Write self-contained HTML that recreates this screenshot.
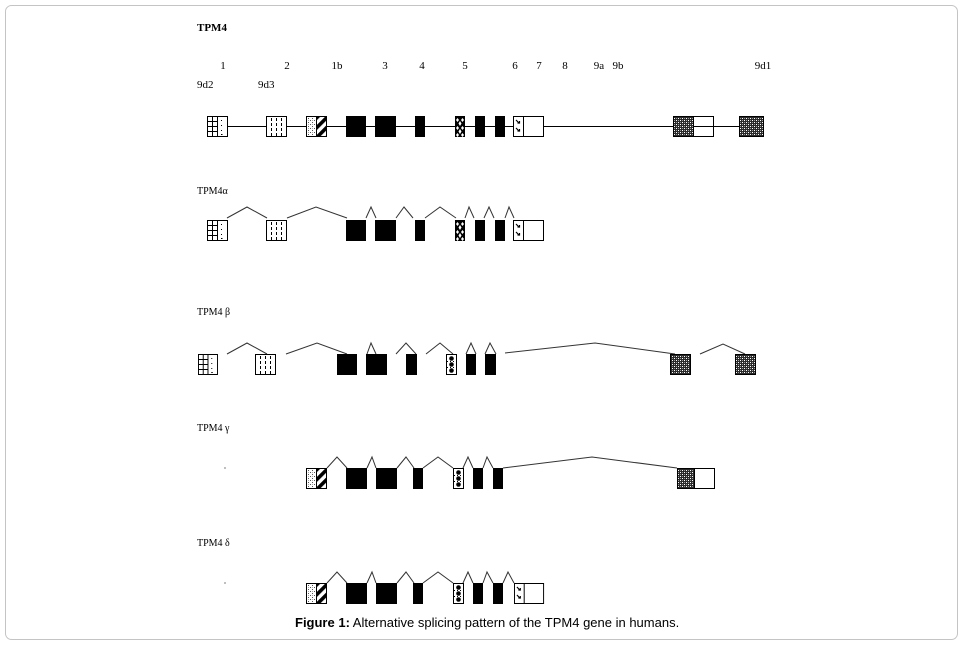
<!DOCTYPE html>
<html><head><meta charset="utf-8"><style>
html,body{margin:0;padding:0;background:#fff;}
svg{display:block;}
.s{font-family:"Liberation Serif",serif;font-size:11px;fill:#000;}
.l{font-family:"Liberation Serif",serif;font-size:10px;fill:#000;}
.c{font-family:"Liberation Sans",sans-serif;font-size:13px;fill:#000;}
</style></head><body>
<svg width="963" height="645" viewBox="0 0 963 645" xmlns="http://www.w3.org/2000/svg">
<defs>
<pattern id="st" width="4" height="4" patternUnits="userSpaceOnUse">
<rect width="4" height="4" fill="#fff"/><rect x="0" y="0" width="1" height="1" fill="#555"/><rect x="2" y="2" width="1" height="1" fill="#555"/><rect x="2" y="0" width="1" height="1" fill="#aaa"/>
</pattern>
<pattern id="dg" width="7" height="7" patternUnits="userSpaceOnUse" patternTransform="rotate(45)">
<rect width="7" height="7" fill="#fff"/><rect width="3.6" height="7" fill="#000"/>
</pattern>
<pattern id="dk" width="4" height="4" patternUnits="userSpaceOnUse">
<rect width="4" height="4" fill="#2a2a2a"/><rect x="0" y="0" width="1" height="1" fill="#fff"/><rect x="2" y="2" width="1" height="1" fill="#fff"/><rect x="2" y="0" width="1" height="1" fill="#999"/><rect x="0" y="2" width="1" height="1" fill="#999"/>
</pattern>
<g id="b1">
<rect x="0.5" y="0.5" width="20" height="20" fill="#fff" stroke="#000"/>
<line x1="10.5" y1="0" x2="10.5" y2="21" stroke="#000"/>
<line x1="5.5" y1="0" x2="5.5" y2="21" stroke="#000"/>
<line x1="0" y1="5.5" x2="10.5" y2="5.5" stroke="#000"/>
<line x1="0" y1="10.5" x2="10.5" y2="10.5" stroke="#000"/>
<line x1="0" y1="15.5" x2="10.5" y2="15.5" stroke="#000"/>
<rect x="14" y="4" width="1" height="1" fill="#000"/><rect x="14" y="9" width="1" height="1" fill="#000"/><rect x="14" y="14" width="1" height="1" fill="#000"/><rect x="14" y="18" width="1.5" height="1" fill="#000"/>
</g>
<g id="b2">
<rect x="0.5" y="0.5" width="20" height="20" fill="#fff" stroke="#000"/>
<g stroke="#000" stroke-dasharray="3 2">
<line x1="5.5" y1="2" x2="5.5" y2="20"/><line x1="10.5" y1="2" x2="10.5" y2="20"/><line x1="15.5" y1="2" x2="15.5" y2="20"/>
</g>
</g>
<g id="b1b">
<rect x="0.5" y="0.5" width="10" height="20" fill="url(#st)"/>
<rect x="10.5" y="0.5" width="10" height="20" fill="url(#dg)"/>
<rect x="0.5" y="0.5" width="20" height="20" fill="none" stroke="#000"/>
<line x1="10.5" y1="0" x2="10.5" y2="21" stroke="#000"/>
</g>
<g id="p5a">
<rect x="0" y="0" width="10" height="21" fill="#000"/>
<path d="M2.5 2 L4 4 L2.5 6 L1 4Z M7.5 2 L9 4 L7.5 6 L6 4Z M5 5 L6.5 7.5 L5 10 L3.5 7.5Z M2.5 10 L4 12 L2.5 14 L1 12Z M7.5 10 L9 12 L7.5 14 L6 12Z M5 13 L6.5 15.5 L5 18 L3.5 15.5Z M2.5 17 L4 19 L2.5 21 L1 19Z M7.5 17 L9 19 L7.5 21 L6 19Z" fill="#fff"/>
</g>
<g id="p5b">
<rect x="0.5" y="0.5" width="10" height="20" fill="#fff" stroke="#000"/>
<circle cx="5.5" cy="4.5" r="2.3" fill="#000"/><circle cx="5.5" cy="10.5" r="2.3" fill="#000"/><circle cx="5.5" cy="16.5" r="2.3" fill="#000"/>
<line x1="1" y1="7.5" x2="10" y2="7.5" stroke="#000" stroke-dasharray="1 2"/>
<line x1="1" y1="13.5" x2="10" y2="13.5" stroke="#000" stroke-dasharray="1 2"/>
</g>
<g id="b67">
<rect x="0.5" y="0.5" width="30" height="20" fill="#fff" stroke="#000"/>
<line x1="10.5" y1="0" x2="10.5" y2="21" stroke="#000"/>
<path d="M3 4 L6 7 M4.5 7 L6.5 7 L6.5 5" stroke="#000" stroke-width="1.2" fill="none"/>
<path d="M3 12 L6 15 M4.5 15 L6.5 15 L6.5 13" stroke="#000" stroke-width="1.2" fill="none"/>
</g>
</defs>

<rect x="5.5" y="5.5" width="952" height="634" rx="6" fill="#fff" stroke="#c4c4c4"/>

<!-- Header -->
<text x="197" y="31" class="s" font-weight="bold">TPM4</text>
<g class="s" text-anchor="middle">
<text x="223" y="69">1</text><text x="287" y="69">2</text><text x="337" y="69">1b</text>
<text x="385" y="69">3</text><text x="422" y="69">4</text><text x="465" y="69">5</text>
<text x="515" y="69">6</text><text x="539" y="69">7</text><text x="565" y="69">8</text>
<text x="599" y="69">9a</text><text x="618" y="69">9b</text><text x="763" y="69">9d1</text>
</g>
<text x="197" y="88" class="s">9d2</text>
<text x="258" y="88" class="s">9d3</text>

<!-- Row 1: gene -->
<line x1="227" y1="126.5" x2="739" y2="126.5" stroke="#000"/>
<use href="#b1" x="207" y="116"/>
<use href="#b2" x="266" y="116"/>
<use href="#b1b" x="306" y="116"/>
<rect x="346" y="116" width="20" height="21" fill="#000"/>
<rect x="375" y="116" width="21" height="21" fill="#000"/>
<rect x="415" y="116" width="10" height="21" fill="#000"/>
<use href="#p5a" x="455" y="116"/>
<rect x="475" y="116" width="10" height="21" fill="#000"/>
<rect x="495" y="116" width="10" height="21" fill="#000"/>
<use href="#b67" x="513" y="116"/>
<rect x="673.5" y="116.5" width="20" height="20" fill="url(#dk)"/>
<rect x="673.5" y="116.5" width="40" height="20" fill="none" stroke="#000"/>
<line x1="693.5" y1="116" x2="693.5" y2="137" stroke="#000"/>
<rect x="739.5" y="116.5" width="24" height="20" fill="url(#dk)" stroke="#000"/>

<!-- TPM4 alpha -->
<text x="197" y="194" class="l">TPM4α</text>
<g stroke="#333" fill="none">
<polyline points="227,218 247,207 267,218"/>
<polyline points="287,218 316,207 347,218"/>
<polyline points="366,218 371,207 376,218"/>
<polyline points="396,218 404,207 413,218"/>
<polyline points="425,218 440,207 456,218"/>
<polyline points="465,218 469,207 474,218"/>
<polyline points="484,218 489,207 494,218"/>
<polyline points="505,218 509,207 514,218"/>
</g>
<use href="#b1" x="207" y="220"/>
<use href="#b2" x="266" y="220"/>
<rect x="346" y="220" width="20" height="21" fill="#000"/>
<rect x="375" y="220" width="21" height="21" fill="#000"/>
<rect x="415" y="220" width="10" height="21" fill="#000"/>
<use href="#p5a" x="455" y="220"/>
<rect x="475" y="220" width="10" height="21" fill="#000"/>
<rect x="495" y="220" width="10" height="21" fill="#000"/>
<use href="#b67" x="513" y="220"/>

<!-- TPM4 beta -->
<text x="197" y="315" class="l">TPM4 β</text>
<g stroke="#333" fill="none">
<polyline points="227,354 247,343 267,354"/>
<polyline points="286,354 317,343 347,354"/>
<polyline points="367,354 371,343 376,354"/>
<polyline points="396,354 406,343 416,354"/>
<polyline points="426,354 440,343 453,354"/>
<polyline points="466,354 471,343 476,354"/>
<polyline points="485,354 490,343 496,354"/>
<polyline points="505,353 595,343 675,354"/>
<polyline points="700,354 723,344 745,354"/>
</g>
<use href="#b1" x="198" y="354" transform="translate(198 354) scale(0.95 1) translate(-198 -354)"/>
<use href="#b2" x="255" y="354"/>
<rect x="337" y="354" width="20" height="21" fill="#000"/>
<rect x="366" y="354" width="21" height="21" fill="#000"/>
<rect x="406" y="354" width="11" height="21" fill="#000"/>
<use href="#p5b" x="446" y="354"/>
<rect x="466" y="354" width="10" height="21" fill="#000"/>
<rect x="485" y="354" width="11" height="21" fill="#000"/>
<rect x="670.5" y="354.5" width="20" height="20" fill="url(#dk)" stroke="#000"/>
<rect x="735.5" y="354.5" width="20" height="20" fill="url(#dk)" stroke="#000"/>

<!-- TPM4 gamma -->
<text x="197" y="431" class="l">TPM4 γ</text>
<rect x="224.5" y="467.5" width="1" height="1" fill="#000"/>
<g stroke="#333" fill="none">
<polyline points="327,468 337,457 347,468"/>
<polyline points="367,468 372,457 376,468"/>
<polyline points="397,468 406,457 414,468"/>
<polyline points="423,468 438,457 453,468"/>
<polyline points="463,468 468,457 473,468"/>
<polyline points="483,468 487,457 493,468"/>
<polyline points="503,468 592,457 677,468"/>
</g>
<use href="#b1b" x="306" y="468"/>
<rect x="346" y="468" width="21" height="21" fill="#000"/>
<rect x="376" y="468" width="21" height="21" fill="#000"/>
<rect x="413" y="468" width="10" height="21" fill="#000"/>
<use href="#p5b" x="453" y="468"/>
<rect x="473" y="468" width="10" height="21" fill="#000"/>
<rect x="493" y="468" width="10" height="21" fill="#000"/>
<rect x="677.5" y="468.5" width="17" height="20" fill="url(#dk)"/>
<rect x="677.5" y="468.5" width="37" height="20" fill="none" stroke="#000"/>
<line x1="694.5" y1="468" x2="694.5" y2="489" stroke="#000"/>

<!-- TPM4 delta -->
<text x="197" y="546" class="l">TPM4 δ</text>
<rect x="224.5" y="582.5" width="1" height="1" fill="#000"/>
<g stroke="#333" fill="none">
<polyline points="327,583 337,572 347,583"/>
<polyline points="367,583 372,572 376,583"/>
<polyline points="397,583 406,572 414,583"/>
<polyline points="423,583 438,572 453,583"/>
<polyline points="463,583 468,572 473,583"/>
<polyline points="483,583 487,572 493,583"/>
<polyline points="503,583 508,572 514,583"/>
</g>
<use href="#b1b" x="306" y="583"/>
<rect x="346" y="583" width="21" height="21" fill="#000"/>
<rect x="376" y="583" width="21" height="21" fill="#000"/>
<rect x="413" y="583" width="10" height="21" fill="#000"/>
<use href="#p5b" x="453" y="583"/>
<rect x="473" y="583" width="10" height="21" fill="#000"/>
<rect x="493" y="583" width="10" height="21" fill="#000"/>
<use href="#b67" x="514" y="583" transform="translate(514 583) scale(0.97 1) translate(-514 -583)"/>

<!-- Caption -->
<text x="295" y="627" class="c"><tspan font-weight="bold">Figure 1:</tspan> Alternative splicing pattern of the TPM4 gene in humans.</text>
</svg>
</body></html>
